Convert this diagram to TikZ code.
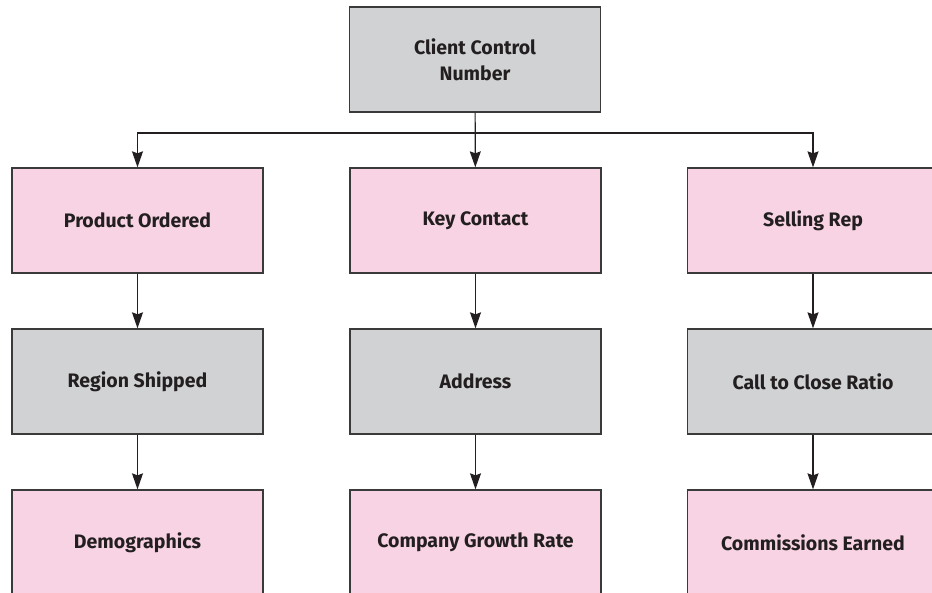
\documentclass[tikz,border=0pt]{standalone}
\usepackage{fontspec}
\setmainfont{Fira Sans}
\usetikzlibrary{arrows.meta}
\definecolor{boxgray}{HTML}{D1D2D4}
\definecolor{boxpink}{HTML}{F8D3E3}
\definecolor{edge}{HTML}{3A3A3A}
\definecolor{ink}{HTML}{231F20}
\tikzset{
  box/.style={draw=edge, line width=1.3pt, minimum width=251pt, minimum height=105pt,
    align=center, font=\fontsize{19.5}{26}\selectfont\bfseries, text=ink},
  graybox/.style={box, fill=boxgray},
  pinkbox/.style={box, fill=boxpink},
  arr/.style={draw=ink, line width=1.1pt, -{Stealth[length=16pt,width=11pt,inset=2pt]}}
}
\begin{document}
\begin{tikzpicture}[x=1pt, y=-1pt]
  \clip (0,0) rectangle (932,593);
  % top
  \node [graybox] (ccn) at (475,59.5) {Client Control\\Number};
  % first row
  \node [pinkbox] (prod) at (137.5,220.5) {Product Ordered};
  \node [pinkbox] (key) at (475.5,220.5) {Key Contact};
  \node [pinkbox] (sell) at (813,220.5) {Selling Rep};
  % second row
  \node [graybox] (region) at (137.5,381.5) {Region Shipped};
  \node [graybox] (addr) at (475.5,381.5) {Address};
  \node [graybox] (ratio) at (813,381.5) {Call to Close Ratio};
  % third row
  \node [pinkbox] (demo) at (137.5,542.5) {Demographics};
  \node [pinkbox] (growth) at (475.5,542.5) {Company Growth Rate};
  \node [pinkbox] (comm) at (813,542.5) {Commissions Earned};
  \coordinate (bus) at (475.5,133);
  \draw [arr] (ccn) -- (key);
  \draw [arr] (bus) -| (prod);
  \draw [arr] (bus) -| (sell);
  \draw [arr] (prod) -- (region);
  \draw [arr] (key) -- (addr);
  \draw [arr] (sell) -- (ratio);
  \draw [arr] (region) -- (demo);
  \draw [arr] (addr) -- (growth);
  \draw [arr] (ratio) -- (comm);
\end{tikzpicture}
\end{document}
